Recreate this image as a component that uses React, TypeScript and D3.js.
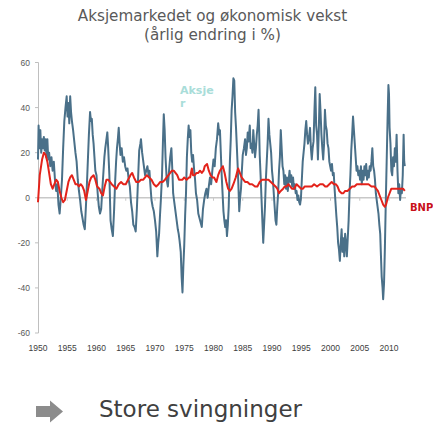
import * as d3 from 'd3';

// Aksjer (stock market), annual change in %
const aksjerYears = [
  1950.0, 1950.1, 1950.25, 1950.4, 1950.55, 1950.7, 1950.85, 1951.0, 1951.15, 1951.3, 1951.45, 1951.6, 1951.75, 1951.9,
  1952.1, 1952.3, 1952.5, 1952.7, 1952.9, 1953.1, 1953.3, 1953.5, 1953.7, 1953.9, 1954.1, 1954.3, 1954.5, 1954.7, 1954.9,
  1955.05, 1955.2, 1955.35, 1955.5, 1955.65, 1955.8, 1956.0, 1956.2, 1956.4, 1956.6, 1956.8, 1957.0, 1957.2, 1957.4,
  1957.6, 1957.8, 1958.0, 1958.15, 1958.3, 1958.5, 1958.7, 1958.9, 1959.05, 1959.2, 1959.35, 1959.5, 1959.65, 1959.8,
  1960.0, 1960.2, 1960.4, 1960.6, 1960.8, 1961.0, 1961.2, 1961.35, 1961.5, 1961.7, 1961.85, 1962.0, 1962.2, 1962.4,
  1962.6, 1962.8, 1963.0, 1963.2, 1963.35, 1963.5, 1963.65, 1963.8, 1963.95, 1964.1, 1964.3, 1964.5, 1964.7, 1964.9,
  1965.1, 1965.3, 1965.5, 1965.7, 1965.9, 1966.1, 1966.3, 1966.5, 1966.7, 1966.9, 1967.1, 1967.3, 1967.5, 1967.6,
  1967.8, 1967.95, 1968.1, 1968.3, 1968.5, 1968.7, 1968.9, 1969.05, 1969.2, 1969.4, 1969.6, 1969.8, 1970.0, 1970.2,
  1970.4, 1970.55, 1970.7, 1970.85, 1971.0, 1971.2, 1971.35, 1971.5, 1971.65, 1971.8, 1972.0, 1972.2, 1972.4, 1972.6,
  1972.8, 1973.0, 1973.1, 1973.3, 1973.5, 1973.7, 1973.9, 1974.05, 1974.2, 1974.4, 1974.55, 1974.7, 1974.85, 1975.0,
  1975.15, 1975.3, 1975.45, 1975.6, 1975.75, 1975.9, 1976.05, 1976.2, 1976.35, 1976.5, 1976.7, 1976.85, 1977.0, 1977.2,
  1977.4, 1977.6, 1977.8, 1978.0, 1978.2, 1978.4, 1978.6, 1978.8, 1979.0, 1979.2, 1979.4, 1979.6, 1979.8, 1980.0,
  1980.2, 1980.4, 1980.6, 1980.8, 1981.0, 1981.1, 1981.25, 1981.4, 1981.55, 1981.7, 1981.85, 1982.0, 1982.15, 1982.3,
  1982.45, 1982.6, 1982.8, 1982.95, 1983.1, 1983.25, 1983.4, 1983.55, 1983.7, 1983.85, 1984.0, 1984.1, 1984.25, 1984.4,
  1984.55, 1984.7, 1984.85, 1985.0, 1985.2, 1985.4, 1985.55, 1985.7, 1985.85, 1986.0, 1986.2, 1986.35, 1986.5, 1986.65,
  1986.8, 1986.95, 1987.1, 1987.25, 1987.4, 1987.55, 1987.7, 1987.8, 1987.9, 1988.05, 1988.2, 1988.35, 1988.5, 1988.65,
  1988.8, 1988.95, 1989.1, 1989.25, 1989.4, 1989.55, 1989.7, 1989.85, 1990.0, 1990.15, 1990.3, 1990.45, 1990.6, 1990.75,
  1990.9, 1991.05, 1991.2, 1991.35, 1991.5, 1991.65, 1991.8, 1991.95, 1992.1, 1992.25, 1992.4, 1992.55, 1992.7, 1992.85,
  1993.0, 1993.15, 1993.3, 1993.45, 1993.6, 1993.75, 1993.9, 1994.05, 1994.2, 1994.35, 1994.5, 1994.65, 1994.8, 1994.95,
  1995.1, 1995.25, 1995.4, 1995.55, 1995.7, 1995.85, 1996.0, 1996.15, 1996.3, 1996.5, 1996.65, 1996.8, 1996.95, 1997.1,
  1997.25, 1997.4, 1997.55, 1997.7, 1997.85, 1998.0, 1998.15, 1998.3, 1998.45, 1998.6, 1998.75, 1998.9, 1999.05, 1999.2,
  1999.35, 1999.5, 1999.65, 1999.8, 1999.95, 2000.1, 2000.25, 2000.4, 2000.55, 2000.7, 2000.85, 2001.0, 2001.15, 2001.3,
  2001.45, 2001.6, 2001.75, 2001.9, 2002.05, 2002.2, 2002.35, 2002.5, 2002.65, 2002.8, 2002.95, 2003.1, 2003.25, 2003.4,
  2003.55, 2003.7, 2003.85, 2004.0, 2004.15, 2004.3, 2004.45, 2004.6, 2004.75, 2004.9, 2005.05, 2005.2, 2005.35, 2005.5,
  2005.65, 2005.8, 2005.95, 2006.1, 2006.25, 2006.4, 2006.55, 2006.7, 2006.85, 2007.0, 2007.15, 2007.3, 2007.45, 2007.6,
  2007.75, 2007.9, 2008.05, 2008.2, 2008.35, 2008.5, 2008.6, 2008.75, 2008.9, 2009.0, 2009.15, 2009.3, 2009.45, 2009.6,
  2009.75, 2009.9, 2010.0, 2010.1, 2010.25, 2010.4, 2010.55, 2010.7, 2010.85, 2011.0, 2011.15, 2011.3, 2011.45, 2011.6,
  2011.75, 2011.9, 2012.05, 2012.2, 2012.35, 2012.5, 2012.6, 2012.7,
];
const aksjerValues = [
  17, 32, 22, 30, 20, 26, 22, 27, 21, 26, 18, 26, 17, 20,
  14, 18, 12, 16, 8, 3, 6, -3, -7, 0, 8, 22, 34, 40, 45,
  36, 42, 33, 45, 38, 34, 30, 25, 20, 16, 8, 3, -1, -6,
  -9, -12, -14, -6, 2, 15, 28, 38, 34, 35, 28, 24, 18, 12,
  10, 2, -4, -7, -5, 4, 12, 18, 22, 26, 29, 22, 10, -10,
  -14, -17, -6, 8, 16, 22, 26, 31, 24, 19, 22, 16, 18, 14,
  12, 13, 8, 5, -2, -6, -12, -13, -15, -5, 8, 21, 24, 26,
  20, 17, 14, 10, 12, 14, 10, 12, 6, -1, -4, -6, -10, -15,
  -26, -20, -16, -8, -1, 10, 24, 37, 30, 18, 8, 5, 12, 18,
  22, 10, 2, -2, -6, -10, -14, -16, -19, -24, -35, -42, -30, -21,
  -8, 2, 18, 26, 32, 27, 30, 20, 16, 19, 12, 8, 2, -1,
  -7, -9, -11, -13, -5, -1, 2, 4, 0, 5, 9, 6, 12, 17,
  14, 22, 26, 33, 28, 30, 20, 10, 2, -6, -10, -13, -10, -17,
  -12, -4, 16, 26, 39, 45, 53, 52, 38, 31, 22, 16, 6, -6,
  0, 4, 12, 19, 22, 26, 19, 22, 29, 25, 32, 22, 24, 20,
  30, 24, 18, 22, 28, 32, 39, 30, 19, 10, 0, -10, -20, -12,
  -4, 8, 16, 24, 35, 28, 24, 20, 12, 8, 2, -4, -10, -12,
  -4, 2, 12, 18, 30, 22, 14, 12, 6, 10, 4, 9, 3, 8,
  12, 7, 10, 5, 9, 4, 6, 2, 3, -1, 1, -2, -3, 0,
  8, 16, 20, 24, 30, 34, 28, 24, 26, 31, 22, 17, 22, 25,
  38, 49, 32, 28, 17, 30, 46, 38, 28, 22, 17, 24, 39, 32,
  30, 24, 22, 16, 14, 12, 15, 10, 11, 4, -2, -8, -13, -20,
  -23, -28, -20, -14, -24, -18, -26, -16, -20, -26, -18, -10, 2, 10,
  21, 28, 36, 30, 24, 18, 12, 14, 10, 12, 8, 14, 6, 12,
  8, 14, 10, 15, 8, 12, 9, 14, 12, 16, 22, 14, 12, 8,
  2, -1, -4, -7, -12, -16, -24, -35, -40, -45, -38, -22, -2, 16,
  34, 50, 46, 31, 24, 12, 10, 18, 14, 22, 16, 28, 12, 2,
  6, -1, 4, 2, 10, 28, 16, 14,
];

// BNP (GDP growth), annual change in %
const bnpYears = [
  1950.0, 1950.3, 1950.7, 1951.0, 1951.3, 1951.6, 1951.9, 1952.2, 1952.5, 1952.8, 1953.1, 1953.4, 1953.7, 1954.0,
  1954.3, 1954.6, 1954.9, 1955.2, 1955.5, 1955.8, 1956.1, 1956.4, 1956.7, 1957.0, 1957.3, 1957.6, 1957.9, 1958.2,
  1958.5, 1958.8, 1959.1, 1959.5, 1959.8, 1960.1, 1960.5, 1960.8, 1961.1, 1961.4, 1961.7, 1962.0, 1962.3, 1962.6,
  1963.0, 1963.4, 1963.8, 1964.2, 1964.6, 1965.0, 1965.4, 1965.8, 1966.1, 1966.4, 1966.8, 1967.2, 1967.6, 1968.0,
  1968.3, 1968.6, 1969.0, 1969.4, 1969.8, 1970.2, 1970.6, 1970.9, 1971.3, 1971.7, 1972.0, 1972.3, 1972.6, 1972.9,
  1973.2, 1973.5, 1973.8, 1974.1, 1974.4, 1974.7, 1975.0, 1975.4, 1975.8, 1976.0, 1976.3, 1976.5, 1976.8, 1977.1,
  1977.4, 1977.7, 1978.0, 1978.3, 1978.5, 1978.9, 1979.2, 1979.5, 1979.8, 1980.1, 1980.5, 1980.8, 1981.1, 1981.6,
  1981.9, 1982.2, 1982.5, 1982.8, 1983.1, 1983.4, 1983.8, 1984.2, 1984.5, 1984.8, 1985.1, 1985.4, 1985.8, 1986.2,
  1986.6, 1987.1, 1987.5, 1987.9, 1988.3, 1988.8, 1989.4, 1989.8, 1990.2, 1990.6, 1990.9, 1991.2, 1991.5, 1991.9,
  1992.2, 1992.5, 1992.8, 1993.1, 1993.4, 1993.8, 1994.2, 1994.6, 1995.0, 1995.3, 1995.6, 1995.9, 1996.3, 1996.8,
  1997.2, 1997.7, 1998.2, 1998.7, 1999.1, 1999.4, 1999.8, 2000.2, 2000.6, 2000.9, 2001.2, 2001.5, 2001.9, 2002.2,
  2002.5, 2002.9, 2003.3, 2003.7, 2004.1, 2004.5, 2005.0, 2005.5, 2006.0, 2006.5, 2007.0, 2007.5, 2007.8, 2008.1,
  2008.4, 2008.7, 2009.0, 2009.3, 2009.5, 2009.8, 2010.1, 2010.4, 2010.8, 2011.2, 2011.6, 2012.0, 2012.4, 2012.7,
];
const bnpValues = [
  -2, 10, 17, 20, 19, 16, 11, 6, 4, 6, 8, 7, 3, 0,
  -2, -1, 3, 7, 9, 10, 8, 6, 6, 5, 6, 5, 3, -1,
  3, 7, 9, 10, 8, 5, 4, 2, 1, 5, 8, 8, 7, 6,
  5, 4, 6, 7, 6, 6, 8, 10, 11, 9, 7, 7, 8, 8,
  9, 10, 9, 8, 6, 5, 6, 7, 7, 8, 9, 10, 11, 12,
  12, 11, 10, 8, 8, 8, 9, 8, 9, 9, 13, 10, 10, 11,
  11, 12, 11, 12, 14, 15, 12, 10, 9, 9, 7, 10, 12, 14,
  11, 7, 4, 3, 4, 6, 9, 13, 11, 9, 8, 7, 7, 6,
  6, 5, 5, 7, 8, 8, 8, 7, 6, 5, 4, 2, 3, 4,
  5, 5, 6, 5, 4, 4, 6, 5, 4, 4, 5, 5, 5, 5,
  6, 5, 6, 6, 5, 5, 6, 7, 6, 6, 5, 3, 2, 2,
  3, 3, 4, 5, 5, 6, 6, 6, 6, 6, 5, 5, 4, 3,
  1, -1, -3, -4, -3, 0, 2, 4, 4, 4, 4, 4, 4, 3,
];

const xTicks = [1950, 1955, 1960, 1965, 1970, 1975, 1980, 1985, 1990, 1995, 2000, 2005, 2010];
const yTicks = [-60, -40, -20, 0, 20, 40, 60];

const W = 433;
const H = 423;

export default function App() {
  const x = d3.scaleLinear().domain([1950, 2010]).range([38, 389]);
  const y = d3.scaleLinear().domain([-60, 60]).range([333, 62.5]);

  const aksjer = aksjerYears.map((yr, i) => [yr, aksjerValues[i]] as [number, number]);
  const bnp = bnpYears.map((yr, i) => [yr, bnpValues[i]] as [number, number]);

  const line = d3.line<[number, number]>()
    .x(d => x(d[0]))
    .y(d => y(d[1]));

  const tickFont = '"Liberation Sans", Arial, sans-serif';
  const labelFont = '"DejaVu Sans", Verdana, sans-serif';
  const axisColor = '#bfbfbf';

  return (
    <svg width={W} height={H} style={{ position: 'absolute', left: 0, top: 0 }}>
      <rect width={W} height={H} fill="#ffffff" />

      {/* title */}
      <text x={212.5} y={21} textAnchor="middle" fontFamily={labelFont} fontSize={15.2} fill="#595959">
        Aksjemarkedet og økonomisk vekst
      </text>
      <text x={212.5} y={40} textAnchor="middle" fontFamily={labelFont} fontSize={15.2} fill="#595959">
        (årlig endring i %)
      </text>

      {/* y axis */}
      <line x1={38.5} x2={38.5} y1={y(60)} y2={y(-60)} stroke={axisColor} strokeWidth={1} />
      {yTicks.map(t => (
        <g key={t}>
          <line x1={35} x2={38.5} y1={y(t)} y2={y(t)} stroke={axisColor} strokeWidth={1} />
          <text x={30} y={y(t) + 3} textAnchor="end" fontFamily={tickFont} fontSize={8.5} fill="#595959">{t}</text>
        </g>
      ))}

      {/* zero line with year ticks */}
      <line x1={38.5} x2={x(2012.9)} y1={y(0)} y2={y(0)} stroke="#c8c8c8" strokeWidth={1.5} />
      {xTicks.map(t => (
        <line key={t} x1={x(t)} x2={x(t)} y1={y(0)} y2={y(0) + 3} stroke="#c8c8c8" strokeWidth={1} />
      ))}

      {/* x tick labels */}
      {xTicks.map(t => (
        <text key={t} x={x(t)} y={351} textAnchor="middle" fontFamily={tickFont} fontSize={8.5} fill="#404040">{t}</text>
      ))}

      {/* series */}
      <path d={line(aksjer) || ''} fill="none" stroke="#4a7089" strokeWidth={2} strokeLinejoin="round" />
      <path d={line(bnp) || ''} fill="none" stroke="#e3231b" strokeWidth={2} strokeLinejoin="round" />

      {/* labels */}
      <text x={180} y={94} fontFamily={labelFont} fontWeight="bold" fontSize={11} fill="#a9ddd9">Aksje</text>
      <text x={180} y={107} fontFamily={labelFont} fontWeight="bold" fontSize={11} fill="#a9ddd9">r</text>
      <text x={410} y={211} fontFamily={labelFont} fontWeight="bold" fontSize={10} fill="#c8101a">BNP</text>

      {/* bottom note */}
      <path d="M36,406 L50,406 L50,400.5 L63,411.5 L50,422.5 L50,417 L36,417 Z" fill="#8c8c8c" />
      <text x={99} y={417} fontFamily={labelFont} fontSize={23} fill="#404040">Store svingninger</text>
    </svg>
  );
}
